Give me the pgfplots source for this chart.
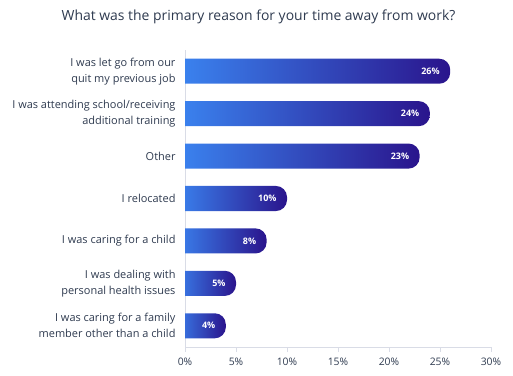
\documentclass[border=0pt]{standalone}
\usepackage{pgfplots}
\usepackage{pgfplotstable}
\pgfplotsset{compat=1.18}
\usepackage{fontspec}
\setmainfont{Open Sans}
\definecolor{txt}{HTML}{2E3A4F}
\definecolor{axl}{HTML}{D9DCE6}
\definecolor{barL}{HTML}{3B86F2}
\definecolor{barR}{HTML}{2A148C}
\pgfplotstableread{
pos v
6 26
5 24
4 23
3 10
2 8
1 5
0 4
}\data
\begin{document}
\begin{tikzpicture}
\path[use as bounding box] (0,0) rectangle (513bp,376bp);
\node[text=txt, font=\fontsize{14}{16}\selectfont] at (258.5bp,359bp) {What was the primary reason for your time away from work?};
\begin{axis}[
  at={(185bp,29bp)}, anchor=south west, scale only axis,
  width=306bp, height=297bp,
  xmin=0, xmax=30, ymin=-0.5, ymax=6.5,
  axis x line*=bottom, axis y line*=left,
  axis line style={draw=axl, line width=0.8bp, -},
  xtick={0,5,...,30},
  xticklabels={0\%,5\%,10\%,15\%,20\%,25\%,30\%},
  ytick={0,...,6},
  yticklabels={{I was caring for a family\\member other than a child},{I was dealing with\\personal health issues},{I was caring for a child},{I relocated},{Other},{I was attending school/receiving\\additional training},{I was let go from our\\quit my previous job}},
  tick align=outside, major tick length=5bp,
  xtick style={draw=axl, line width=0.8bp},
  ytick style={draw=none},
  xticklabel style={text=txt, font=\fontsize{10.4}{12}\selectfont, yshift=-2bp},
  yticklabel style={text=txt, font=\fontsize{11}{16}\selectfont, align=right, xshift=-1bp},
  /pgf/number format/assume math mode=true,
  bars/.style={draw=none, left color=barL, right color=barR, rounded corners=11bp},
]
% each bar: from left of the axis (hidden by the clip) to its value, 25bp thick
\addplot[bars] coordinates {(-1.2,5.705) (26,5.705) (26,6.295) (-1.2,6.295)} -- cycle;
\addplot[bars] coordinates {(-1.2,4.705) (24,4.705) (24,5.295) (-1.2,5.295)} -- cycle;
\addplot[bars] coordinates {(-1.2,3.705) (23,3.705) (23,4.295) (-1.2,4.295)} -- cycle;
\addplot[bars] coordinates {(-1.2,2.705) (10,2.705) (10,3.295) (-1.2,3.295)} -- cycle;
\addplot[bars] coordinates {(-1.2,1.705) (8,1.705) (8,2.295) (-1.2,2.295)} -- cycle;
\addplot[bars] coordinates {(-1.2,0.705) (5,0.705) (5,1.295) (-1.2,1.295)} -- cycle;
\addplot[bars] coordinates {(-1.2,-0.295) (4,-0.295) (4,0.295) (-1.2,0.295)} -- cycle;
\addplot[only marks, mark=none, point meta=explicit,
  nodes near coords={\pgfmathprintnumber{\pgfplotspointmeta}\%},
  every node near coord/.append style={anchor=east, xshift=-7bp, text=white, font=\bfseries\fontsize{9}{10}\selectfont}]
  table[x=v, y=pos, meta=v] {\data};
\end{axis}
\end{tikzpicture}
\end{document}
